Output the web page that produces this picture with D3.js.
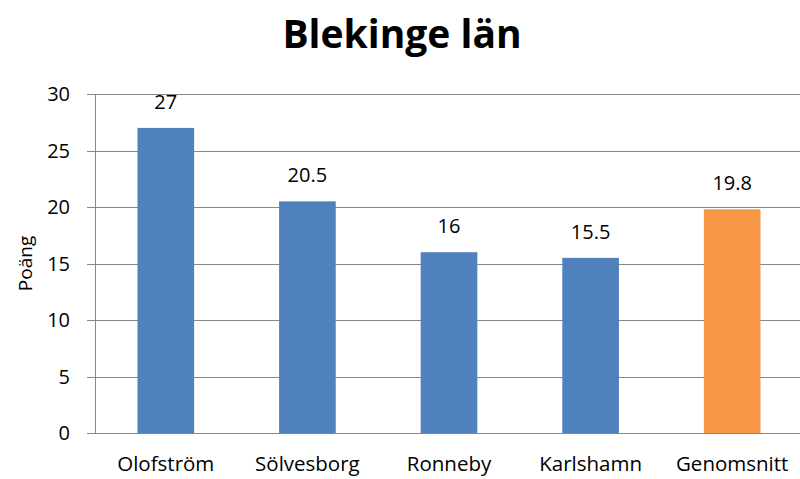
<!DOCTYPE html>
<html>
<head>
<meta charset="utf-8">
<script src="https://cdn.jsdelivr.net/npm/d3@7"></script>
<style>
    body { margin: 0; background: #fff; }
    text { font-family: "Open Sans", "DejaVu Sans", sans-serif; fill: #000; }
</style>
</head>
<body>
<div id="chart"></div>
<script>
// Data
const categories = ["Olofström", "Sölvesborg", "Ronneby", "Karlshamn", "Genomsnitt"];
const values = [27, 20.5, 16, 15.5, 19.8];
const barColors = ["#4f81bd", "#4f81bd", "#4f81bd", "#4f81bd", "#f79646"];
const yTicks = [0, 5, 10, 15, 20, 25, 30];

const width = 800, height = 479;
const margin = { top: 94, right: -3, bottom: 46, left: 95 };

const svg = d3.select("#chart")
    .append("svg")
    .attr("width", width)
    .attr("height", height);

const x = d3.scaleBand()
    .domain(categories)
    .range([margin.left, width - margin.right])
    .paddingInner(0.6)
    .paddingOuter(0.3);

const y = d3.scaleLinear()
    .domain([0, 30])
    .range([height - margin.bottom, margin.top]);

// gridlines + ticks
svg.append("g")
    .selectAll("line")
    .data(yTicks)
    .join("line")
    .attr("x1", margin.left - 8)
    .attr("x2", width)
    .attr("y1", d => Math.round(y(d)) + 0.5)
    .attr("y2", d => Math.round(y(d)) + 0.5)
    .attr("stroke", "#878787")
    .attr("stroke-width", 1);

// y axis line
svg.append("line")
    .attr("x1", margin.left + 0.5)
    .attr("x2", margin.left + 0.5)
    .attr("y1", y(30))
    .attr("y2", y(0))
    .attr("stroke", "#878787");

svg.append("g")
    .selectAll("text")
    .data(yTicks)
    .join("text")
    .attr("x", margin.left - 25)
    .attr("y", d => y(d))
    .attr("dy", "0.36em")
    .attr("text-anchor", "end")
    .style("font-size", "20px")
    .text(d => d);

// bars
svg.append("g")
    .selectAll("rect")
    .data(values)
    .join("rect")
    .attr("x", (d, i) => x(categories[i]))
    .attr("width", x.bandwidth())
    .attr("y", d => y(d))
    .attr("height", d => y(0) - y(d))
    .attr("fill", (d, i) => barColors[i]);

// value labels
svg.append("g")
    .selectAll("text")
    .data(values)
    .join("text")
    .attr("x", (d, i) => x(categories[i]) + x.bandwidth() / 2)
    .attr("y", d => y(d) - 19)
    .attr("text-anchor", "middle")
    .style("font-size", "20px")
    .text(d => d);

// category labels (kept just inside the bottom edge)
svg.append("g")
    .selectAll("text")
    .data(categories)
    .join("text")
    .attr("x", d => x(d) + x.bandwidth() / 2)
    .attr("y", 471)
    .attr("text-anchor", "middle")
    .style("font-size", "20.5px")
    .text(d => d);

// axis title
svg.append("text")
    .attr("transform", `translate(32, ${(y(0) + y(30)) / 2}) rotate(-90)`)
    .attr("text-anchor", "middle")
    .style("font-size", "19px")
    .text("Poäng");

// title
svg.append("text")
    .attr("x", 402)
    .attr("y", 48)
    .attr("text-anchor", "middle")
    .style("font-size", "39px")
    .style("font-weight", "bold")
    .text("Blekinge län");
</script>
</body>
</html>
